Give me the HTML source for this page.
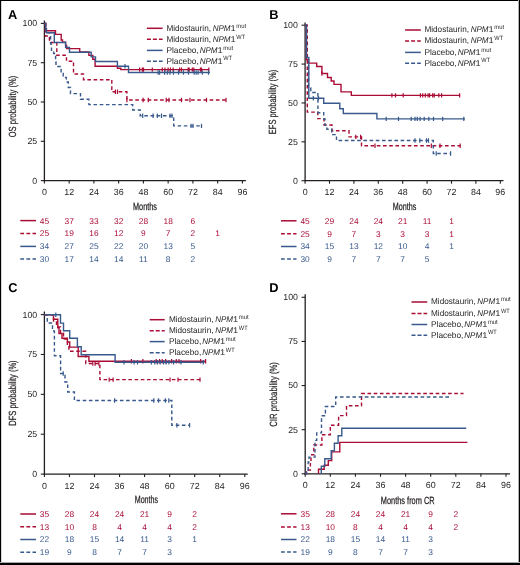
<!DOCTYPE html>
<html><head><meta charset="utf-8"><style>
html,body{margin:0;padding:0;background:#fff;}
body{width:520px;height:565px;overflow:hidden;position:relative;}
svg{position:absolute;left:0;top:0;font-family:"Liberation Sans", sans-serif;text-rendering:geometricPrecision;will-change:transform;}
.frame{position:absolute;left:0;top:0;width:520px;height:565px;box-sizing:border-box;border-style:solid;border-color:#000;border-width:1px 1.6px 2px 1.1px;}
</style></head><body>
<svg width="520" height="565" viewBox="0 0 520 565">
<text x="8.1" y="18.6" font-size="12.8" font-weight="bold" fill="#000">A</text>
<line x1="44.4" y1="20.5" x2="44.4" y2="181.25" stroke="#231f20" stroke-width="1.3"/>
<line x1="43.75" y1="180.6" x2="245.9" y2="180.6" stroke="#231f20" stroke-width="1.3"/>
<line x1="40.8" y1="180.6" x2="44.4" y2="180.6" stroke="#231f20" stroke-width="1.1"/>
<text x="37.199999999999996" y="183.5" font-size="8.8" text-anchor="end" fill="#231f20">0</text>
<line x1="40.8" y1="141.3" x2="44.4" y2="141.3" stroke="#231f20" stroke-width="1.1"/>
<text x="37.199999999999996" y="144.20000000000002" font-size="8.8" text-anchor="end" fill="#231f20">25</text>
<line x1="40.8" y1="102.0" x2="44.4" y2="102.0" stroke="#231f20" stroke-width="1.1"/>
<text x="37.199999999999996" y="104.9" font-size="8.8" text-anchor="end" fill="#231f20">50</text>
<line x1="40.8" y1="62.69999999999999" x2="44.4" y2="62.69999999999999" stroke="#231f20" stroke-width="1.1"/>
<text x="37.199999999999996" y="65.6" font-size="8.8" text-anchor="end" fill="#231f20">75</text>
<line x1="40.8" y1="23.400000000000006" x2="44.4" y2="23.400000000000006" stroke="#231f20" stroke-width="1.1"/>
<text x="37.199999999999996" y="26.300000000000004" font-size="8.8" text-anchor="end" fill="#231f20">100</text>
<line x1="44.4" y1="180.6" x2="44.4" y2="183.6" stroke="#231f20" stroke-width="1.1"/>
<text x="44.4" y="195.2" font-size="8.9" text-anchor="middle" fill="#231f20">0</text>
<line x1="69.15" y1="180.6" x2="69.15" y2="183.6" stroke="#231f20" stroke-width="1.1"/>
<text x="69.15" y="195.2" font-size="8.9" text-anchor="middle" fill="#231f20">12</text>
<line x1="93.9" y1="180.6" x2="93.9" y2="183.6" stroke="#231f20" stroke-width="1.1"/>
<text x="93.9" y="195.2" font-size="8.9" text-anchor="middle" fill="#231f20">24</text>
<line x1="118.65" y1="180.6" x2="118.65" y2="183.6" stroke="#231f20" stroke-width="1.1"/>
<text x="118.65" y="195.2" font-size="8.9" text-anchor="middle" fill="#231f20">36</text>
<line x1="143.4" y1="180.6" x2="143.4" y2="183.6" stroke="#231f20" stroke-width="1.1"/>
<text x="143.4" y="195.2" font-size="8.9" text-anchor="middle" fill="#231f20">48</text>
<line x1="168.15" y1="180.6" x2="168.15" y2="183.6" stroke="#231f20" stroke-width="1.1"/>
<text x="168.15" y="195.2" font-size="8.9" text-anchor="middle" fill="#231f20">60</text>
<line x1="192.9" y1="180.6" x2="192.9" y2="183.6" stroke="#231f20" stroke-width="1.1"/>
<text x="192.9" y="195.2" font-size="8.9" text-anchor="middle" fill="#231f20">72</text>
<line x1="217.65" y1="180.6" x2="217.65" y2="183.6" stroke="#231f20" stroke-width="1.1"/>
<text x="217.65" y="195.2" font-size="8.9" text-anchor="middle" fill="#231f20">84</text>
<line x1="242.4" y1="180.6" x2="242.4" y2="183.6" stroke="#231f20" stroke-width="1.1"/>
<text x="242.4" y="195.2" font-size="8.9" text-anchor="middle" fill="#231f20">96</text>
<text transform="translate(15.6,106.5) rotate(-90)" x="0" y="0" font-size="10.4" text-anchor="middle" textLength="61.7" lengthAdjust="spacingAndGlyphs" fill="#231f20" stroke="#231f20" stroke-width="0.2">OS probability (%)</text>
<text x="145.0" y="210.2" font-size="10.4" text-anchor="middle" textLength="24.0" lengthAdjust="spacingAndGlyphs" fill="#231f20" stroke="#231f20" stroke-width="0.25">Months</text>
<line x1="146.9" y1="28.3" x2="162.6" y2="28.3" stroke="#a90c35" stroke-width="1.5"/>
<text x="166.4" y="30.7" font-size="8.4" fill="#231f20"><tspan textLength="44.6" lengthAdjust="spacingAndGlyphs">Midostaurin,</tspan><tspan x="212.7" font-style="italic" textLength="17.9" lengthAdjust="spacingAndGlyphs">NPM</tspan><tspan textLength="5.2" lengthAdjust="spacingAndGlyphs">1</tspan><tspan x="236.3" dy="-3.2" font-size="6.2" textLength="9.8" lengthAdjust="spacingAndGlyphs">mut</tspan></text>
<line x1="146.9" y1="39.3" x2="162.6" y2="39.3" stroke="#a90c35" stroke-width="1.5" stroke-dasharray="4 2"/>
<text x="166.4" y="41.699999999999996" font-size="8.4" fill="#231f20"><tspan textLength="44.6" lengthAdjust="spacingAndGlyphs">Midostaurin,</tspan><tspan x="212.7" font-style="italic" textLength="17.9" lengthAdjust="spacingAndGlyphs">NPM</tspan><tspan textLength="5.2" lengthAdjust="spacingAndGlyphs">1</tspan><tspan x="236.3" dy="-3.2" font-size="6.2" textLength="8.8" lengthAdjust="spacingAndGlyphs">WT</tspan></text>
<line x1="146.9" y1="50.4" x2="162.6" y2="50.4" stroke="#38598c" stroke-width="1.5"/>
<text x="166.4" y="52.8" font-size="8.4" fill="#231f20"><tspan textLength="32.4" lengthAdjust="spacingAndGlyphs">Placebo,</tspan><tspan x="199.7" font-style="italic" textLength="17.9" lengthAdjust="spacingAndGlyphs">NPM</tspan><tspan textLength="5.2" lengthAdjust="spacingAndGlyphs">1</tspan><tspan x="223.3" dy="-3.2" font-size="6.2" textLength="9.8" lengthAdjust="spacingAndGlyphs">mut</tspan></text>
<line x1="146.9" y1="61.2" x2="162.6" y2="61.2" stroke="#38598c" stroke-width="1.5" stroke-dasharray="4 2"/>
<text x="166.4" y="63.6" font-size="8.4" fill="#231f20"><tspan textLength="32.4" lengthAdjust="spacingAndGlyphs">Placebo,</tspan><tspan x="199.7" font-style="italic" textLength="17.9" lengthAdjust="spacingAndGlyphs">NPM</tspan><tspan textLength="5.2" lengthAdjust="spacingAndGlyphs">1</tspan><tspan x="223.3" dy="-3.2" font-size="6.2" textLength="8.8" lengthAdjust="spacingAndGlyphs">WT</tspan></text>
<line x1="20.3" y1="220.6" x2="36.0" y2="220.6" stroke="#a90c35" stroke-width="1.5"/>
<text x="44.4" y="223.54999999999998" font-size="8.4" text-anchor="middle" fill="#a90c35">45</text>
<text x="69.15" y="223.54999999999998" font-size="8.4" text-anchor="middle" fill="#a90c35">37</text>
<text x="93.9" y="223.54999999999998" font-size="8.4" text-anchor="middle" fill="#a90c35">33</text>
<text x="118.65" y="223.54999999999998" font-size="8.4" text-anchor="middle" fill="#a90c35">32</text>
<text x="143.4" y="223.54999999999998" font-size="8.4" text-anchor="middle" fill="#a90c35">28</text>
<text x="168.15" y="223.54999999999998" font-size="8.4" text-anchor="middle" fill="#a90c35">18</text>
<text x="192.9" y="223.54999999999998" font-size="8.4" text-anchor="middle" fill="#a90c35">6</text>
<line x1="20.3" y1="233.4" x2="36.0" y2="233.4" stroke="#a90c35" stroke-width="1.5" stroke-dasharray="3.8 2.3"/>
<text x="44.4" y="236.35" font-size="8.4" text-anchor="middle" fill="#a90c35">25</text>
<text x="69.15" y="236.35" font-size="8.4" text-anchor="middle" fill="#a90c35">19</text>
<text x="93.9" y="236.35" font-size="8.4" text-anchor="middle" fill="#a90c35">16</text>
<text x="118.65" y="236.35" font-size="8.4" text-anchor="middle" fill="#a90c35">12</text>
<text x="143.4" y="236.35" font-size="8.4" text-anchor="middle" fill="#a90c35">9</text>
<text x="168.15" y="236.35" font-size="8.4" text-anchor="middle" fill="#a90c35">7</text>
<text x="192.9" y="236.35" font-size="8.4" text-anchor="middle" fill="#a90c35">2</text>
<text x="217.65" y="236.35" font-size="8.4" text-anchor="middle" fill="#a90c35">1</text>
<line x1="20.3" y1="246.4" x2="36.0" y2="246.4" stroke="#38598c" stroke-width="1.5"/>
<text x="44.4" y="249.35" font-size="8.4" text-anchor="middle" fill="#38598c">34</text>
<text x="69.15" y="249.35" font-size="8.4" text-anchor="middle" fill="#38598c">27</text>
<text x="93.9" y="249.35" font-size="8.4" text-anchor="middle" fill="#38598c">25</text>
<text x="118.65" y="249.35" font-size="8.4" text-anchor="middle" fill="#38598c">22</text>
<text x="143.4" y="249.35" font-size="8.4" text-anchor="middle" fill="#38598c">20</text>
<text x="168.15" y="249.35" font-size="8.4" text-anchor="middle" fill="#38598c">13</text>
<text x="192.9" y="249.35" font-size="8.4" text-anchor="middle" fill="#38598c">5</text>
<line x1="20.3" y1="259.1" x2="36.0" y2="259.1" stroke="#38598c" stroke-width="1.5" stroke-dasharray="3.8 2.3"/>
<text x="44.4" y="262.05" font-size="8.4" text-anchor="middle" fill="#38598c">30</text>
<text x="69.15" y="262.05" font-size="8.4" text-anchor="middle" fill="#38598c">17</text>
<text x="93.9" y="262.05" font-size="8.4" text-anchor="middle" fill="#38598c">14</text>
<text x="118.65" y="262.05" font-size="8.4" text-anchor="middle" fill="#38598c">14</text>
<text x="143.4" y="262.05" font-size="8.4" text-anchor="middle" fill="#38598c">11</text>
<text x="168.15" y="262.05" font-size="8.4" text-anchor="middle" fill="#38598c">8</text>
<text x="192.9" y="262.05" font-size="8.4" text-anchor="middle" fill="#38598c">2</text>
<path d="M44.5 23.4H45.3V36H49.4V42.5H56.8V55.2H66.5V61.2H73.5V74H83.5V79.7H111.8V91.8H126.9V100H227.6" fill="none" stroke="#a90c35" stroke-width="1.4" stroke-dasharray="3.6 2.6"/><path d="M115.4 89.6V94.0M117.5 89.6V94.0M126.9 97.8V102.2M143.1 97.8V102.2M148.3 97.8V102.2M166.2 97.8V102.2M169 97.8V102.2M181.5 97.8V102.2M190 97.8V102.2M206.5 97.8V102.2M226 97.8V102.2" fill="none" stroke="#a90c35" stroke-width="1.2"/>
<path d="M44.5 23.4H45.8V32.7H50.6V44H51.5V50.4H53.6V53.5H55.6V62H56V66.5H61.1V73.5H63.2V77.4H66.3V82H68.3V87.5H70.5V93.6H80.5V99.2H88.9V104.6H132.7V110H140.2V115.8H173.7V125.9H202.5" fill="none" stroke="#38598c" stroke-width="1.4" stroke-dasharray="3.6 2.6"/><path d="M142.7 113.6V118.0M153.1 113.6V118.0M157.3 113.6V118.0M161.5 113.6V118.0M170 113.6V118.0M172 113.6V118.0M191 123.7V128.1M193 123.7V128.1M201.5 123.7V128.1" fill="none" stroke="#38598c" stroke-width="1.2"/>
<path d="M44.5 23.4H45.8V30.8H55.5V34.4H61.2V40H62.5V42.3H65.6V45.4H66.6V48.6H79.7V52H88.9V55.4H92.8V59.2H95.1V66.2H117.4V68.2H120.8V69.6H209.2" fill="none" stroke="#a90c35" stroke-width="1.4"/><path d="M139.6 67.39999999999999V71.8M142.3 67.39999999999999V71.8M143.5 67.39999999999999V71.8M152.3 67.39999999999999V71.8M162.3 67.39999999999999V71.8M165 67.39999999999999V71.8M168.1 67.39999999999999V71.8M170.4 67.39999999999999V71.8M173.1 67.39999999999999V71.8M179.6 67.39999999999999V71.8M181.5 67.39999999999999V71.8M188.1 67.39999999999999V71.8M189.2 67.39999999999999V71.8M192.3 67.39999999999999V71.8M193.8 67.39999999999999V71.8M200.4 67.39999999999999V71.8M201.5 67.39999999999999V71.8M208.8 67.39999999999999V71.8" fill="none" stroke="#a90c35" stroke-width="1.2"/>
<path d="M44.5 23.4H45.5V28.8H46.5V32.7H54.3V42.5H65.6V47.4H69.5V52.2H91.2V56.9H95.5V61.5H117.4V66.2H128.5V72.5H209.9" fill="none" stroke="#38598c" stroke-width="1.4"/><path d="M125 64.0V68.4M158.1 70.3V74.7M159.6 70.3V74.7M164.6 70.3V74.7M167.3 70.3V74.7M170 70.3V74.7M173.5 70.3V74.7M178.5 70.3V74.7M183.5 70.3V74.7M188.5 70.3V74.7M194.2 70.3V74.7M196.2 70.3V74.7M198.1 70.3V74.7M202.3 70.3V74.7M208.5 70.3V74.7" fill="none" stroke="#38598c" stroke-width="1.2"/>
<text x="269.3" y="19.1" font-size="12.8" font-weight="bold" fill="#000">B</text>
<line x1="305.1" y1="22.5" x2="305.1" y2="181.35" stroke="#231f20" stroke-width="1.3"/>
<line x1="304.45000000000005" y1="180.7" x2="503.5" y2="180.7" stroke="#231f20" stroke-width="1.3"/>
<line x1="301.5" y1="180.7" x2="305.1" y2="180.7" stroke="#231f20" stroke-width="1.1"/>
<text x="297.90000000000003" y="183.6" font-size="8.8" text-anchor="end" fill="#231f20">0</text>
<line x1="301.5" y1="141.825" x2="305.1" y2="141.825" stroke="#231f20" stroke-width="1.1"/>
<text x="297.90000000000003" y="144.725" font-size="8.8" text-anchor="end" fill="#231f20">25</text>
<line x1="301.5" y1="102.94999999999999" x2="305.1" y2="102.94999999999999" stroke="#231f20" stroke-width="1.1"/>
<text x="297.90000000000003" y="105.85" font-size="8.8" text-anchor="end" fill="#231f20">50</text>
<line x1="301.5" y1="64.07499999999999" x2="305.1" y2="64.07499999999999" stroke="#231f20" stroke-width="1.1"/>
<text x="297.90000000000003" y="66.975" font-size="8.8" text-anchor="end" fill="#231f20">75</text>
<line x1="301.5" y1="25.19999999999999" x2="305.1" y2="25.19999999999999" stroke="#231f20" stroke-width="1.1"/>
<text x="297.90000000000003" y="28.099999999999987" font-size="8.8" text-anchor="end" fill="#231f20">100</text>
<line x1="305.1" y1="180.7" x2="305.1" y2="183.7" stroke="#231f20" stroke-width="1.1"/>
<text x="305.1" y="195.29999999999998" font-size="8.9" text-anchor="middle" fill="#231f20">0</text>
<line x1="329.5" y1="180.7" x2="329.5" y2="183.7" stroke="#231f20" stroke-width="1.1"/>
<text x="329.5" y="195.29999999999998" font-size="8.9" text-anchor="middle" fill="#231f20">12</text>
<line x1="353.90000000000003" y1="180.7" x2="353.90000000000003" y2="183.7" stroke="#231f20" stroke-width="1.1"/>
<text x="353.90000000000003" y="195.29999999999998" font-size="8.9" text-anchor="middle" fill="#231f20">24</text>
<line x1="378.3" y1="180.7" x2="378.3" y2="183.7" stroke="#231f20" stroke-width="1.1"/>
<text x="378.3" y="195.29999999999998" font-size="8.9" text-anchor="middle" fill="#231f20">36</text>
<line x1="402.70000000000005" y1="180.7" x2="402.70000000000005" y2="183.7" stroke="#231f20" stroke-width="1.1"/>
<text x="402.70000000000005" y="195.29999999999998" font-size="8.9" text-anchor="middle" fill="#231f20">48</text>
<line x1="427.1" y1="180.7" x2="427.1" y2="183.7" stroke="#231f20" stroke-width="1.1"/>
<text x="427.1" y="195.29999999999998" font-size="8.9" text-anchor="middle" fill="#231f20">60</text>
<line x1="451.5" y1="180.7" x2="451.5" y2="183.7" stroke="#231f20" stroke-width="1.1"/>
<text x="451.5" y="195.29999999999998" font-size="8.9" text-anchor="middle" fill="#231f20">72</text>
<line x1="475.9" y1="180.7" x2="475.9" y2="183.7" stroke="#231f20" stroke-width="1.1"/>
<text x="475.9" y="195.29999999999998" font-size="8.9" text-anchor="middle" fill="#231f20">84</text>
<line x1="500.3" y1="180.7" x2="500.3" y2="183.7" stroke="#231f20" stroke-width="1.1"/>
<text x="500.3" y="195.29999999999998" font-size="8.9" text-anchor="middle" fill="#231f20">96</text>
<text transform="translate(276.4,102.0) rotate(-90)" x="0" y="0" font-size="10.4" text-anchor="middle" textLength="64.3" lengthAdjust="spacingAndGlyphs" fill="#231f20" stroke="#231f20" stroke-width="0.2">EFS probability (%)</text>
<text x="404.6" y="209.8" font-size="10.4" text-anchor="middle" textLength="23.5" lengthAdjust="spacingAndGlyphs" fill="#231f20" stroke="#231f20" stroke-width="0.25">Months</text>
<line x1="405.1" y1="30.0" x2="420.8" y2="30.0" stroke="#a90c35" stroke-width="1.5"/>
<text x="424.4" y="32.4" font-size="8.4" fill="#231f20"><tspan textLength="44.6" lengthAdjust="spacingAndGlyphs">Midostaurin,</tspan><tspan x="470.7" font-style="italic" textLength="17.9" lengthAdjust="spacingAndGlyphs">NPM</tspan><tspan textLength="5.2" lengthAdjust="spacingAndGlyphs">1</tspan><tspan x="494.3" dy="-3.2" font-size="6.2" textLength="9.8" lengthAdjust="spacingAndGlyphs">mut</tspan></text>
<line x1="405.1" y1="40.9" x2="420.8" y2="40.9" stroke="#a90c35" stroke-width="1.5" stroke-dasharray="4 2"/>
<text x="424.4" y="43.3" font-size="8.4" fill="#231f20"><tspan textLength="44.6" lengthAdjust="spacingAndGlyphs">Midostaurin,</tspan><tspan x="470.7" font-style="italic" textLength="17.9" lengthAdjust="spacingAndGlyphs">NPM</tspan><tspan textLength="5.2" lengthAdjust="spacingAndGlyphs">1</tspan><tspan x="494.3" dy="-3.2" font-size="6.2" textLength="8.8" lengthAdjust="spacingAndGlyphs">WT</tspan></text>
<line x1="405.1" y1="52.4" x2="420.8" y2="52.4" stroke="#38598c" stroke-width="1.5"/>
<text x="424.4" y="54.8" font-size="8.4" fill="#231f20"><tspan textLength="32.4" lengthAdjust="spacingAndGlyphs">Placebo,</tspan><tspan x="457.7" font-style="italic" textLength="17.9" lengthAdjust="spacingAndGlyphs">NPM</tspan><tspan textLength="5.2" lengthAdjust="spacingAndGlyphs">1</tspan><tspan x="481.3" dy="-3.2" font-size="6.2" textLength="9.8" lengthAdjust="spacingAndGlyphs">mut</tspan></text>
<line x1="405.1" y1="63.3" x2="420.8" y2="63.3" stroke="#38598c" stroke-width="1.5" stroke-dasharray="4 2"/>
<text x="424.4" y="65.7" font-size="8.4" fill="#231f20"><tspan textLength="32.4" lengthAdjust="spacingAndGlyphs">Placebo,</tspan><tspan x="457.7" font-style="italic" textLength="17.9" lengthAdjust="spacingAndGlyphs">NPM</tspan><tspan textLength="5.2" lengthAdjust="spacingAndGlyphs">1</tspan><tspan x="481.3" dy="-3.2" font-size="6.2" textLength="8.8" lengthAdjust="spacingAndGlyphs">WT</tspan></text>
<line x1="281.0" y1="220.8" x2="296.5" y2="220.8" stroke="#a90c35" stroke-width="1.5"/>
<text x="305.1" y="223.75" font-size="8.4" text-anchor="middle" fill="#a90c35">45</text>
<text x="329.5" y="223.75" font-size="8.4" text-anchor="middle" fill="#a90c35">29</text>
<text x="353.9" y="223.75" font-size="8.4" text-anchor="middle" fill="#a90c35">24</text>
<text x="378.3" y="223.75" font-size="8.4" text-anchor="middle" fill="#a90c35">24</text>
<text x="402.7" y="223.75" font-size="8.4" text-anchor="middle" fill="#a90c35">21</text>
<text x="427.1" y="223.75" font-size="8.4" text-anchor="middle" fill="#a90c35">11</text>
<text x="451.5" y="223.75" font-size="8.4" text-anchor="middle" fill="#a90c35">1</text>
<line x1="281.0" y1="233.7" x2="296.5" y2="233.7" stroke="#a90c35" stroke-width="1.5" stroke-dasharray="3.8 2.3"/>
<text x="305.1" y="236.64999999999998" font-size="8.4" text-anchor="middle" fill="#a90c35">25</text>
<text x="329.5" y="236.64999999999998" font-size="8.4" text-anchor="middle" fill="#a90c35">9</text>
<text x="353.9" y="236.64999999999998" font-size="8.4" text-anchor="middle" fill="#a90c35">7</text>
<text x="378.3" y="236.64999999999998" font-size="8.4" text-anchor="middle" fill="#a90c35">3</text>
<text x="402.7" y="236.64999999999998" font-size="8.4" text-anchor="middle" fill="#a90c35">3</text>
<text x="427.1" y="236.64999999999998" font-size="8.4" text-anchor="middle" fill="#a90c35">3</text>
<text x="451.5" y="236.64999999999998" font-size="8.4" text-anchor="middle" fill="#a90c35">1</text>
<line x1="281.0" y1="246.5" x2="296.5" y2="246.5" stroke="#38598c" stroke-width="1.5"/>
<text x="305.1" y="249.45" font-size="8.4" text-anchor="middle" fill="#38598c">34</text>
<text x="329.5" y="249.45" font-size="8.4" text-anchor="middle" fill="#38598c">15</text>
<text x="353.9" y="249.45" font-size="8.4" text-anchor="middle" fill="#38598c">13</text>
<text x="378.3" y="249.45" font-size="8.4" text-anchor="middle" fill="#38598c">12</text>
<text x="402.7" y="249.45" font-size="8.4" text-anchor="middle" fill="#38598c">10</text>
<text x="427.1" y="249.45" font-size="8.4" text-anchor="middle" fill="#38598c">4</text>
<text x="451.5" y="249.45" font-size="8.4" text-anchor="middle" fill="#38598c">1</text>
<line x1="281.0" y1="259.1" x2="296.5" y2="259.1" stroke="#38598c" stroke-width="1.5" stroke-dasharray="3.8 2.3"/>
<text x="305.1" y="262.05" font-size="8.4" text-anchor="middle" fill="#38598c">30</text>
<text x="329.5" y="262.05" font-size="8.4" text-anchor="middle" fill="#38598c">9</text>
<text x="353.9" y="262.05" font-size="8.4" text-anchor="middle" fill="#38598c">7</text>
<text x="378.3" y="262.05" font-size="8.4" text-anchor="middle" fill="#38598c">7</text>
<text x="402.7" y="262.05" font-size="8.4" text-anchor="middle" fill="#38598c">7</text>
<text x="427.1" y="262.05" font-size="8.4" text-anchor="middle" fill="#38598c">5</text>
<path d="M305.1 25.2H307.3V112.1H317.8V118.6H324V125H332V130.8H349V136.9H361.5V145.7H460.2" fill="none" stroke="#a90c35" stroke-width="1.4" stroke-dasharray="3.6 2.6"/><path d="M355.8 134.70000000000002V139.1M360.6 134.70000000000002V139.1M375 143.5V147.89999999999998M431.3 143.5V147.89999999999998M440 143.5V147.89999999999998M460.2 143.5V147.89999999999998" fill="none" stroke="#a90c35" stroke-width="1.2"/>
<path d="M305.1 25.2H306.5V60H308.5V88H310.8V92.5H317.9V112.7H323.7V119H325V125.4H326.9V129.2H331.7V134.6H336.5V140.5H433.3V153.5H450.6" fill="none" stroke="#38598c" stroke-width="1.4" stroke-dasharray="3.6 2.6"/><path d="M415 138.3V142.7M419.8 138.3V142.7M426.5 138.3V142.7M428.5 138.3V142.7M436.2 151.3V155.7M450.6 151.3V155.7" fill="none" stroke="#38598c" stroke-width="1.2"/>
<path d="M305.1 25.2H306.4V59.7H308.5V63.1H316.7V66.5H321.9V73.5H327.5V77.5H331.2V81H334V84.4H341V91.9H351.3V95.4H460.2" fill="none" stroke="#a90c35" stroke-width="1.4"/><path d="M321.9 71.3V75.7M391.9 93.2V97.60000000000001M395.5 93.2V97.60000000000001M403.2 93.2V97.60000000000001M420.4 93.2V97.60000000000001M422.7 93.2V97.60000000000001M425.3 93.2V97.60000000000001M428.1 93.2V97.60000000000001M429.6 93.2V97.60000000000001M432.7 93.2V97.60000000000001M434.2 93.2V97.60000000000001M438.8 93.2V97.60000000000001M441.6 93.2V97.60000000000001M459.6 93.2V97.60000000000001" fill="none" stroke="#a90c35" stroke-width="1.2"/>
<path d="M305.1 25.2H306.4V57.5H308.8V98.3H323.7V103.2H339.8V108.7H343.3V113.5H376.9V118.9H465" fill="none" stroke="#38598c" stroke-width="1.4"/><path d="M313.3 96.1V100.5M318.5 96.1V100.5M386.2 116.7V121.10000000000001M398.5 116.7V121.10000000000001M411.2 116.7V121.10000000000001M415 116.7V121.10000000000001M417.3 116.7V121.10000000000001M420.1 116.7V121.10000000000001M424.2 116.7V121.10000000000001M428.8 116.7V121.10000000000001M433.5 116.7V121.10000000000001M442.7 116.7V121.10000000000001M463.8 116.7V121.10000000000001" fill="none" stroke="#38598c" stroke-width="1.2"/>
<text x="8.2" y="292.3" font-size="12.8" font-weight="bold" fill="#000">C</text>
<line x1="44.4" y1="311.5" x2="44.4" y2="474.75" stroke="#231f20" stroke-width="1.3"/>
<line x1="43.75" y1="474.1" x2="247.7" y2="474.1" stroke="#231f20" stroke-width="1.3"/>
<line x1="40.8" y1="474.1" x2="44.4" y2="474.1" stroke="#231f20" stroke-width="1.1"/>
<text x="37.199999999999996" y="477.0" font-size="8.8" text-anchor="end" fill="#231f20">0</text>
<line x1="40.8" y1="434.225" x2="44.4" y2="434.225" stroke="#231f20" stroke-width="1.1"/>
<text x="37.199999999999996" y="437.125" font-size="8.8" text-anchor="end" fill="#231f20">25</text>
<line x1="40.8" y1="394.35" x2="44.4" y2="394.35" stroke="#231f20" stroke-width="1.1"/>
<text x="37.199999999999996" y="397.25" font-size="8.8" text-anchor="end" fill="#231f20">50</text>
<line x1="40.8" y1="354.475" x2="44.4" y2="354.475" stroke="#231f20" stroke-width="1.1"/>
<text x="37.199999999999996" y="357.375" font-size="8.8" text-anchor="end" fill="#231f20">75</text>
<line x1="40.8" y1="314.6" x2="44.4" y2="314.6" stroke="#231f20" stroke-width="1.1"/>
<text x="37.199999999999996" y="317.5" font-size="8.8" text-anchor="end" fill="#231f20">100</text>
<line x1="44.4" y1="474.1" x2="44.4" y2="477.1" stroke="#231f20" stroke-width="1.1"/>
<text x="44.4" y="488.6" font-size="8.9" text-anchor="middle" fill="#231f20">0</text>
<line x1="69.45" y1="474.1" x2="69.45" y2="477.1" stroke="#231f20" stroke-width="1.1"/>
<text x="69.45" y="488.6" font-size="8.9" text-anchor="middle" fill="#231f20">12</text>
<line x1="94.5" y1="474.1" x2="94.5" y2="477.1" stroke="#231f20" stroke-width="1.1"/>
<text x="94.5" y="488.6" font-size="8.9" text-anchor="middle" fill="#231f20">24</text>
<line x1="119.55000000000001" y1="474.1" x2="119.55000000000001" y2="477.1" stroke="#231f20" stroke-width="1.1"/>
<text x="119.55000000000001" y="488.6" font-size="8.9" text-anchor="middle" fill="#231f20">36</text>
<line x1="144.6" y1="474.1" x2="144.6" y2="477.1" stroke="#231f20" stroke-width="1.1"/>
<text x="144.6" y="488.6" font-size="8.9" text-anchor="middle" fill="#231f20">48</text>
<line x1="169.65" y1="474.1" x2="169.65" y2="477.1" stroke="#231f20" stroke-width="1.1"/>
<text x="169.65" y="488.6" font-size="8.9" text-anchor="middle" fill="#231f20">60</text>
<line x1="194.70000000000002" y1="474.1" x2="194.70000000000002" y2="477.1" stroke="#231f20" stroke-width="1.1"/>
<text x="194.70000000000002" y="488.6" font-size="8.9" text-anchor="middle" fill="#231f20">72</text>
<line x1="219.75" y1="474.1" x2="219.75" y2="477.1" stroke="#231f20" stroke-width="1.1"/>
<text x="219.75" y="488.6" font-size="8.9" text-anchor="middle" fill="#231f20">84</text>
<line x1="244.8" y1="474.1" x2="244.8" y2="477.1" stroke="#231f20" stroke-width="1.1"/>
<text x="244.8" y="488.6" font-size="8.9" text-anchor="middle" fill="#231f20">96</text>
<text transform="translate(15.9,393.1) rotate(-90)" x="0" y="0" font-size="10.4" text-anchor="middle" textLength="65.4" lengthAdjust="spacingAndGlyphs" fill="#231f20" stroke="#231f20" stroke-width="0.2">DFS probability (%)</text>
<text x="146.4" y="503.3" font-size="10.4" text-anchor="middle" textLength="23.3" lengthAdjust="spacingAndGlyphs" fill="#231f20" stroke="#231f20" stroke-width="0.25">Months</text>
<line x1="149.7" y1="319.7" x2="164.7" y2="319.7" stroke="#a90c35" stroke-width="1.5"/>
<text x="168.9" y="322.09999999999997" font-size="8.4" fill="#231f20"><tspan textLength="44.6" lengthAdjust="spacingAndGlyphs">Midostaurin,</tspan><tspan x="215.2" font-style="italic" textLength="17.9" lengthAdjust="spacingAndGlyphs">NPM</tspan><tspan textLength="5.2" lengthAdjust="spacingAndGlyphs">1</tspan><tspan x="238.8" dy="-3.2" font-size="6.2" textLength="9.8" lengthAdjust="spacingAndGlyphs">mut</tspan></text>
<line x1="149.7" y1="330.8" x2="164.7" y2="330.8" stroke="#a90c35" stroke-width="1.5" stroke-dasharray="4 2"/>
<text x="168.9" y="333.2" font-size="8.4" fill="#231f20"><tspan textLength="44.6" lengthAdjust="spacingAndGlyphs">Midostaurin,</tspan><tspan x="215.2" font-style="italic" textLength="17.9" lengthAdjust="spacingAndGlyphs">NPM</tspan><tspan textLength="5.2" lengthAdjust="spacingAndGlyphs">1</tspan><tspan x="238.8" dy="-3.2" font-size="6.2" textLength="8.8" lengthAdjust="spacingAndGlyphs">WT</tspan></text>
<line x1="149.7" y1="341.6" x2="164.7" y2="341.6" stroke="#38598c" stroke-width="1.5"/>
<text x="168.9" y="344.0" font-size="8.4" fill="#231f20"><tspan textLength="32.4" lengthAdjust="spacingAndGlyphs">Placebo,</tspan><tspan x="202.2" font-style="italic" textLength="17.9" lengthAdjust="spacingAndGlyphs">NPM</tspan><tspan textLength="5.2" lengthAdjust="spacingAndGlyphs">1</tspan><tspan x="225.8" dy="-3.2" font-size="6.2" textLength="9.8" lengthAdjust="spacingAndGlyphs">mut</tspan></text>
<line x1="149.7" y1="352.7" x2="164.7" y2="352.7" stroke="#38598c" stroke-width="1.5" stroke-dasharray="4 2"/>
<text x="168.9" y="355.09999999999997" font-size="8.4" fill="#231f20"><tspan textLength="32.4" lengthAdjust="spacingAndGlyphs">Placebo,</tspan><tspan x="202.2" font-style="italic" textLength="17.9" lengthAdjust="spacingAndGlyphs">NPM</tspan><tspan textLength="5.2" lengthAdjust="spacingAndGlyphs">1</tspan><tspan x="225.8" dy="-3.2" font-size="6.2" textLength="8.8" lengthAdjust="spacingAndGlyphs">WT</tspan></text>
<line x1="20.3" y1="514.0" x2="36.0" y2="514.0" stroke="#a90c35" stroke-width="1.5"/>
<text x="44.4" y="516.95" font-size="8.4" text-anchor="middle" fill="#a90c35">35</text>
<text x="69.45" y="516.95" font-size="8.4" text-anchor="middle" fill="#a90c35">28</text>
<text x="94.5" y="516.95" font-size="8.4" text-anchor="middle" fill="#a90c35">24</text>
<text x="119.55" y="516.95" font-size="8.4" text-anchor="middle" fill="#a90c35">24</text>
<text x="144.6" y="516.95" font-size="8.4" text-anchor="middle" fill="#a90c35">21</text>
<text x="169.65" y="516.95" font-size="8.4" text-anchor="middle" fill="#a90c35">9</text>
<text x="194.7" y="516.95" font-size="8.4" text-anchor="middle" fill="#a90c35">2</text>
<line x1="20.3" y1="526.8" x2="36.0" y2="526.8" stroke="#a90c35" stroke-width="1.5" stroke-dasharray="3.8 2.3"/>
<text x="44.4" y="529.75" font-size="8.4" text-anchor="middle" fill="#a90c35">13</text>
<text x="69.45" y="529.75" font-size="8.4" text-anchor="middle" fill="#a90c35">10</text>
<text x="94.5" y="529.75" font-size="8.4" text-anchor="middle" fill="#a90c35">8</text>
<text x="119.55" y="529.75" font-size="8.4" text-anchor="middle" fill="#a90c35">4</text>
<text x="144.6" y="529.75" font-size="8.4" text-anchor="middle" fill="#a90c35">4</text>
<text x="169.65" y="529.75" font-size="8.4" text-anchor="middle" fill="#a90c35">4</text>
<text x="194.7" y="529.75" font-size="8.4" text-anchor="middle" fill="#a90c35">2</text>
<line x1="20.3" y1="539.5" x2="36.0" y2="539.5" stroke="#38598c" stroke-width="1.5"/>
<text x="44.4" y="542.45" font-size="8.4" text-anchor="middle" fill="#38598c">22</text>
<text x="69.45" y="542.45" font-size="8.4" text-anchor="middle" fill="#38598c">18</text>
<text x="94.5" y="542.45" font-size="8.4" text-anchor="middle" fill="#38598c">15</text>
<text x="119.55" y="542.45" font-size="8.4" text-anchor="middle" fill="#38598c">14</text>
<text x="144.6" y="542.45" font-size="8.4" text-anchor="middle" fill="#38598c">11</text>
<text x="169.65" y="542.45" font-size="8.4" text-anchor="middle" fill="#38598c">3</text>
<text x="194.7" y="542.45" font-size="8.4" text-anchor="middle" fill="#38598c">1</text>
<line x1="20.3" y1="552.3" x2="36.0" y2="552.3" stroke="#38598c" stroke-width="1.5" stroke-dasharray="3.8 2.3"/>
<text x="44.4" y="555.25" font-size="8.4" text-anchor="middle" fill="#38598c">19</text>
<text x="69.45" y="555.25" font-size="8.4" text-anchor="middle" fill="#38598c">9</text>
<text x="94.5" y="555.25" font-size="8.4" text-anchor="middle" fill="#38598c">8</text>
<text x="119.55" y="555.25" font-size="8.4" text-anchor="middle" fill="#38598c">7</text>
<text x="144.6" y="555.25" font-size="8.4" text-anchor="middle" fill="#38598c">7</text>
<text x="169.65" y="555.25" font-size="8.4" text-anchor="middle" fill="#38598c">3</text>
<path d="M44.4 314.8H53.5V321H56.5V327H60.5V333H63.5V339H67.4V345H68.9V351.2H85.8V363.5H99.9V379.6H200" fill="none" stroke="#a90c35" stroke-width="1.4" stroke-dasharray="3.6 2.6"/><path d="M92.8 361.3V365.7M95.1 361.3V365.7M98.9 361.3V365.7M109.2 377.40000000000003V381.8M113.1 377.40000000000003V381.8M170 377.40000000000003V381.8M178 377.40000000000003V381.8M200 377.40000000000003V381.8" fill="none" stroke="#a90c35" stroke-width="1.2"/>
<path d="M44.4 314.8H47.3V323H52.5V331H54.4V355.8H60.6V373.5H65V382H67.7V392H74.4V400.5H171.8V425.3H189.6" fill="none" stroke="#38598c" stroke-width="1.4" stroke-dasharray="3.6 2.6"/><path d="M63.2 371.3V375.7M114.6 398.3V402.7M153.8 398.3V402.7M158.5 398.3V402.7M165.4 398.3V402.7M168.8 398.3V402.7M176.9 423.1V427.5M189.6 423.1V427.5" fill="none" stroke="#38598c" stroke-width="1.2"/>
<path d="M44.4 314.8H53.5V319.2H57.8V327.7H59V333.5H62V338.3H67.4V342H69.7V347.1H78.2V356.5H88.9V361.3H205.8" fill="none" stroke="#a90c35" stroke-width="1.4"/><path d="M131.4 359.1V363.5M142.9 359.1V363.5M156.2 359.1V363.5M159.5 359.1V363.5M162.2 359.1V363.5M165.6 359.1V363.5M171.6 359.1V363.5M176.3 359.1V363.5M179 359.1V363.5M200.6 359.1V363.5M205.6 359.1V363.5" fill="none" stroke="#a90c35" stroke-width="1.2"/>
<path d="M44.4 314.8H60.5V323.1H63.5V330.8H69.7V338.3H77.4V346.7H81.2V354.7H115.1V362.3H204.6" fill="none" stroke="#38598c" stroke-width="1.4"/><path d="M55.8 312.6V317.0M124 360.1V364.5M134.1 360.1V364.5M137.5 360.1V364.5M151.4 360.1V364.5M154.8 360.1V364.5M157.5 360.1V364.5M160.2 360.1V364.5M163.6 360.1V364.5M166.2 360.1V364.5M168.9 360.1V364.5M173.6 360.1V364.5M181 360.1V364.5M203.3 360.1V364.5" fill="none" stroke="#38598c" stroke-width="1.2"/>
<text x="269.2" y="291.8" font-size="12.8" font-weight="bold" fill="#000">D</text>
<line x1="305.2" y1="294.2" x2="305.2" y2="474.45" stroke="#231f20" stroke-width="1.3"/>
<line x1="304.55" y1="473.8" x2="510.0" y2="473.8" stroke="#231f20" stroke-width="1.3"/>
<line x1="301.59999999999997" y1="473.8" x2="305.2" y2="473.8" stroke="#231f20" stroke-width="1.1"/>
<text x="298.0" y="476.7" font-size="8.8" text-anchor="end" fill="#231f20">0</text>
<line x1="301.59999999999997" y1="429.675" x2="305.2" y2="429.675" stroke="#231f20" stroke-width="1.1"/>
<text x="298.0" y="432.575" font-size="8.8" text-anchor="end" fill="#231f20">25</text>
<line x1="301.59999999999997" y1="385.55" x2="305.2" y2="385.55" stroke="#231f20" stroke-width="1.1"/>
<text x="298.0" y="388.45" font-size="8.8" text-anchor="end" fill="#231f20">50</text>
<line x1="301.59999999999997" y1="341.425" x2="305.2" y2="341.425" stroke="#231f20" stroke-width="1.1"/>
<text x="298.0" y="344.325" font-size="8.8" text-anchor="end" fill="#231f20">75</text>
<line x1="301.59999999999997" y1="297.3" x2="305.2" y2="297.3" stroke="#231f20" stroke-width="1.1"/>
<text x="298.0" y="300.2" font-size="8.8" text-anchor="end" fill="#231f20">100</text>
<line x1="305.2" y1="473.8" x2="305.2" y2="476.8" stroke="#231f20" stroke-width="1.1"/>
<text x="305.2" y="488.40000000000003" font-size="8.9" text-anchor="middle" fill="#231f20">0</text>
<line x1="330.3" y1="473.8" x2="330.3" y2="476.8" stroke="#231f20" stroke-width="1.1"/>
<text x="330.3" y="488.40000000000003" font-size="8.9" text-anchor="middle" fill="#231f20">12</text>
<line x1="355.4" y1="473.8" x2="355.4" y2="476.8" stroke="#231f20" stroke-width="1.1"/>
<text x="355.4" y="488.40000000000003" font-size="8.9" text-anchor="middle" fill="#231f20">24</text>
<line x1="380.5" y1="473.8" x2="380.5" y2="476.8" stroke="#231f20" stroke-width="1.1"/>
<text x="380.5" y="488.40000000000003" font-size="8.9" text-anchor="middle" fill="#231f20">36</text>
<line x1="405.6" y1="473.8" x2="405.6" y2="476.8" stroke="#231f20" stroke-width="1.1"/>
<text x="405.6" y="488.40000000000003" font-size="8.9" text-anchor="middle" fill="#231f20">48</text>
<line x1="430.7" y1="473.8" x2="430.7" y2="476.8" stroke="#231f20" stroke-width="1.1"/>
<text x="430.7" y="488.40000000000003" font-size="8.9" text-anchor="middle" fill="#231f20">60</text>
<line x1="455.8" y1="473.8" x2="455.8" y2="476.8" stroke="#231f20" stroke-width="1.1"/>
<text x="455.8" y="488.40000000000003" font-size="8.9" text-anchor="middle" fill="#231f20">72</text>
<line x1="480.9" y1="473.8" x2="480.9" y2="476.8" stroke="#231f20" stroke-width="1.1"/>
<text x="480.9" y="488.40000000000003" font-size="8.9" text-anchor="middle" fill="#231f20">84</text>
<line x1="506.0" y1="473.8" x2="506.0" y2="476.8" stroke="#231f20" stroke-width="1.1"/>
<text x="506.0" y="488.40000000000003" font-size="8.9" text-anchor="middle" fill="#231f20">96</text>
<text transform="translate(276.8,394.4) rotate(-90)" x="0" y="0" font-size="10.4" text-anchor="middle" textLength="64.6" lengthAdjust="spacingAndGlyphs" fill="#231f20" stroke="#231f20" stroke-width="0.2">CIR probability (%)</text>
<text x="407.7" y="503.9" font-size="10.4" text-anchor="middle" textLength="53.8" lengthAdjust="spacingAndGlyphs" fill="#231f20" stroke="#231f20" stroke-width="0.25">Months from CR</text>
<line x1="411.5" y1="302.0" x2="427.2" y2="302.0" stroke="#a90c35" stroke-width="1.5"/>
<text x="431.0" y="304.4" font-size="8.4" fill="#231f20"><tspan textLength="44.6" lengthAdjust="spacingAndGlyphs">Midostaurin,</tspan><tspan x="477.3" font-style="italic" textLength="17.9" lengthAdjust="spacingAndGlyphs">NPM</tspan><tspan textLength="5.2" lengthAdjust="spacingAndGlyphs">1</tspan><tspan x="500.9" dy="-3.2" font-size="6.2" textLength="9.8" lengthAdjust="spacingAndGlyphs">mut</tspan></text>
<line x1="411.5" y1="313.4" x2="427.2" y2="313.4" stroke="#a90c35" stroke-width="1.5" stroke-dasharray="4 2"/>
<text x="431.0" y="315.79999999999995" font-size="8.4" fill="#231f20"><tspan textLength="44.6" lengthAdjust="spacingAndGlyphs">Midostaurin,</tspan><tspan x="477.3" font-style="italic" textLength="17.9" lengthAdjust="spacingAndGlyphs">NPM</tspan><tspan textLength="5.2" lengthAdjust="spacingAndGlyphs">1</tspan><tspan x="500.9" dy="-3.2" font-size="6.2" textLength="8.8" lengthAdjust="spacingAndGlyphs">WT</tspan></text>
<line x1="411.5" y1="324.5" x2="427.2" y2="324.5" stroke="#38598c" stroke-width="1.5"/>
<text x="431.0" y="326.9" font-size="8.4" fill="#231f20"><tspan textLength="32.4" lengthAdjust="spacingAndGlyphs">Placebo,</tspan><tspan x="464.3" font-style="italic" textLength="17.9" lengthAdjust="spacingAndGlyphs">NPM</tspan><tspan textLength="5.2" lengthAdjust="spacingAndGlyphs">1</tspan><tspan x="487.9" dy="-3.2" font-size="6.2" textLength="9.8" lengthAdjust="spacingAndGlyphs">mut</tspan></text>
<line x1="411.5" y1="335.2" x2="427.2" y2="335.2" stroke="#38598c" stroke-width="1.5" stroke-dasharray="4 2"/>
<text x="431.0" y="337.59999999999997" font-size="8.4" fill="#231f20"><tspan textLength="32.4" lengthAdjust="spacingAndGlyphs">Placebo,</tspan><tspan x="464.3" font-style="italic" textLength="17.9" lengthAdjust="spacingAndGlyphs">NPM</tspan><tspan textLength="5.2" lengthAdjust="spacingAndGlyphs">1</tspan><tspan x="487.9" dy="-3.2" font-size="6.2" textLength="8.8" lengthAdjust="spacingAndGlyphs">WT</tspan></text>
<line x1="281.0" y1="513.8" x2="296.5" y2="513.8" stroke="#a90c35" stroke-width="1.5"/>
<text x="305.2" y="516.75" font-size="8.4" text-anchor="middle" fill="#a90c35">35</text>
<text x="330.3" y="516.75" font-size="8.4" text-anchor="middle" fill="#a90c35">28</text>
<text x="355.4" y="516.75" font-size="8.4" text-anchor="middle" fill="#a90c35">24</text>
<text x="380.5" y="516.75" font-size="8.4" text-anchor="middle" fill="#a90c35">24</text>
<text x="405.6" y="516.75" font-size="8.4" text-anchor="middle" fill="#a90c35">21</text>
<text x="430.7" y="516.75" font-size="8.4" text-anchor="middle" fill="#a90c35">9</text>
<text x="455.8" y="516.75" font-size="8.4" text-anchor="middle" fill="#a90c35">2</text>
<line x1="281.0" y1="527.0" x2="296.5" y2="527.0" stroke="#a90c35" stroke-width="1.5" stroke-dasharray="3.8 2.3"/>
<text x="305.2" y="529.95" font-size="8.4" text-anchor="middle" fill="#a90c35">13</text>
<text x="330.3" y="529.95" font-size="8.4" text-anchor="middle" fill="#a90c35">10</text>
<text x="355.4" y="529.95" font-size="8.4" text-anchor="middle" fill="#a90c35">8</text>
<text x="380.5" y="529.95" font-size="8.4" text-anchor="middle" fill="#a90c35">4</text>
<text x="405.6" y="529.95" font-size="8.4" text-anchor="middle" fill="#a90c35">4</text>
<text x="430.7" y="529.95" font-size="8.4" text-anchor="middle" fill="#a90c35">4</text>
<text x="455.8" y="529.95" font-size="8.4" text-anchor="middle" fill="#a90c35">2</text>
<line x1="281.0" y1="539.5" x2="296.5" y2="539.5" stroke="#38598c" stroke-width="1.5"/>
<text x="305.2" y="542.45" font-size="8.4" text-anchor="middle" fill="#38598c">22</text>
<text x="330.3" y="542.45" font-size="8.4" text-anchor="middle" fill="#38598c">18</text>
<text x="355.4" y="542.45" font-size="8.4" text-anchor="middle" fill="#38598c">15</text>
<text x="380.5" y="542.45" font-size="8.4" text-anchor="middle" fill="#38598c">14</text>
<text x="405.6" y="542.45" font-size="8.4" text-anchor="middle" fill="#38598c">11</text>
<text x="430.7" y="542.45" font-size="8.4" text-anchor="middle" fill="#38598c">3</text>
<line x1="281.0" y1="552.1" x2="296.5" y2="552.1" stroke="#38598c" stroke-width="1.5" stroke-dasharray="3.8 2.3"/>
<text x="305.2" y="555.0500000000001" font-size="8.4" text-anchor="middle" fill="#38598c">19</text>
<text x="330.3" y="555.0500000000001" font-size="8.4" text-anchor="middle" fill="#38598c">9</text>
<text x="355.4" y="555.0500000000001" font-size="8.4" text-anchor="middle" fill="#38598c">8</text>
<text x="380.5" y="555.0500000000001" font-size="8.4" text-anchor="middle" fill="#38598c">7</text>
<text x="405.6" y="555.0500000000001" font-size="8.4" text-anchor="middle" fill="#38598c">7</text>
<text x="430.7" y="555.0500000000001" font-size="8.4" text-anchor="middle" fill="#38598c">3</text>
<path d="M305.2 473.8H306.5V470H310.4V462H311V454.8H313.8V445H321.9V434.7H330.3V425.2H338.6V415.6H346.5V405.8H361.5V393.5H463.5" fill="none" stroke="#a90c35" stroke-width="1.4" stroke-dasharray="3.6 2.6"/>
<path d="M305.2 473.8H306.5V470H308.1V462H309V457.1H315V440.4H316.7V432.9H321.5V415.8H325.4V406.5H335.7V397H450.8" fill="none" stroke="#38598c" stroke-width="1.4" stroke-dasharray="3.6 2.6"/>
<path d="M318.5 473.8H318.5V469.2H324.2V465.2H328.3V460.6H331.7V451.9H339.8V442.4H467.4" fill="none" stroke="#a90c35" stroke-width="1.4"/>
<path d="M321.3 473.8H321.3V466.3H324.8V458.8H331.2V450.8H334.4V443.3H338.1V435.8H341.8V428.2H466.2" fill="none" stroke="#38598c" stroke-width="1.4"/>
</svg>
<div style="position:absolute;left:0;top:0;width:520px;height:1px;background:#000"></div>
<div style="position:absolute;left:0;top:0;width:1px;height:565px;background:#000"></div>
<div style="position:absolute;left:1px;top:1px;width:1px;height:562px;background:#d8d8d8"></div>
<div style="position:absolute;left:518px;top:0;width:1px;height:565px;background:#b4b4b4"></div>
<div style="position:absolute;left:519px;top:0;width:1px;height:565px;background:#000"></div>
<div style="position:absolute;left:0;top:562px;width:520px;height:1px;background:#a8a8a8"></div>
<div style="position:absolute;left:0;top:563px;width:520px;height:2px;background:#000"></div>
</body></html>
